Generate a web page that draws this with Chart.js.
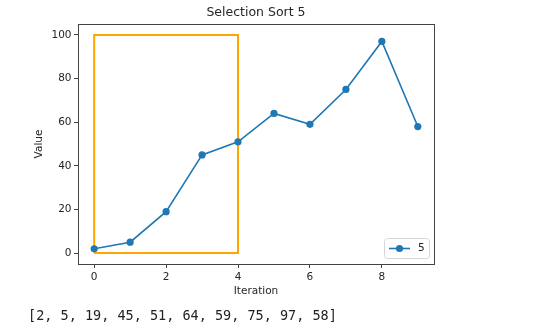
<!DOCTYPE html>
<html>
<head>
<meta charset="utf-8">
<script src="https://cdn.jsdelivr.net/npm/chart.js@4/dist/chart.umd.min.js"></script>
<style>
html, body { margin: 0; padding: 0; background: #fff; }
#wrap { position: relative; width: 539px; height: 329px; }
#listOut {
    position: absolute; left: 28px; top: 305px; margin: 0;
    font-family: "DejaVu Sans Mono", monospace; font-size: 13.5px;
    line-height: 20px; color: #222;
}
</style>
</head>
<body>
<div id="wrap">
    <canvas id="sortChart" width="539" height="329"></canvas>
    <pre id="listOut"></pre>
</div>
<script>
var iterations = [0, 1, 2, 3, 4, 5, 6, 7, 8, 9];
var values = [2, 5, 19, 45, 51, 64, 59, 75, 97, 58];
var boxX = [0, 4, 4, 0, 0];
var boxY = [0, 0, 100, 100, 0];
var xTicks = [0, 2, 4, 6, 8];
var yTicks = [0, 20, 40, 60, 80, 100];
var seriesLabel = '5';
var chartTitle = 'Selection Sort 5';

var blue = '#1f77b4';
var orange = '#ffa500';
var axisColor = '#444';
var textColor = '#262626';
var baseFont = "'DejaVu Sans', sans-serif";

document.getElementById('listOut').textContent = '[' + values.join(', ') + ']';

// title centred over the plot area
var titlePlugin = {
    id: 'plotTitle',
    afterDraw: function (chart) {
        var ctx = chart.ctx, a = chart.chartArea;
        ctx.save();
        ctx.fillStyle = textColor;
        ctx.font = '12.5px ' + baseFont;
        ctx.textAlign = 'center';
        ctx.textBaseline = 'middle';
        ctx.fillText(chartTitle, (a.left + a.right) / 2, 13);
        ctx.restore();
    }
};

// box around the axes
var framePlugin = {
    id: 'frame',
    afterDraw: function (chart) {
        var ctx = chart.ctx, a = chart.chartArea;
        ctx.save();
        ctx.strokeStyle = axisColor;
        ctx.lineWidth = 1;
        ctx.strokeRect(Math.round(a.left) + 0.5, Math.round(a.top) + 0.5,
            Math.round(a.right - a.left), Math.round(a.bottom - a.top));
        ctx.restore();
    }
};

// small legend in the lower right corner
var legendPlugin = {
    id: 'legendBox',
    afterDraw: function (chart) {
        var ctx = chart.ctx, a = chart.chartArea;
        var ds = chart.data.datasets[0];
        var w = 45, h = 20;
        var x = a.right - 5 - w, y = a.bottom - 6 - h;
        ctx.save();
        ctx.fillStyle = 'rgba(255,255,255,0.8)';
        ctx.strokeStyle = '#d6d6d6';
        ctx.lineWidth = 1;
        ctx.beginPath();
        ctx.roundRect(x + 0.5, y + 0.5, w, h, 3);
        ctx.fill();
        ctx.stroke();
        var cy = y + h / 2 + 0.5;
        ctx.strokeStyle = ds.borderColor;
        ctx.lineWidth = ds.borderWidth;
        ctx.beginPath();
        ctx.moveTo(x + 5, cy);
        ctx.lineTo(x + 26, cy);
        ctx.stroke();
        ctx.fillStyle = ds.pointBackgroundColor;
        ctx.beginPath();
        ctx.arc(x + 15.5, cy, ds.pointRadius, 0, Math.PI * 2);
        ctx.fill();
        ctx.fillStyle = textColor;
        ctx.font = '10.5px ' + baseFont;
        ctx.textAlign = 'left';
        ctx.textBaseline = 'middle';
        ctx.fillText(ds.label, x + 34, cy);
        ctx.restore();
    }
};

var ctx = document.getElementById('sortChart').getContext('2d');

var sortChart = new Chart(ctx, {
    type: 'line',
    data: {
        datasets: [{
            label: seriesLabel,
            data: iterations.map(function (it, i) { return { x: it, y: values[i] }; }),
            borderColor: blue,
            backgroundColor: blue,
            pointBackgroundColor: blue,
            pointBorderColor: blue,
            pointRadius: 3.6,
            pointBorderWidth: 0,
            borderWidth: 1.6,
            tension: 0,
            fill: false
        }, {
            label: 'window',
            type: 'scatter',
            showLine: true,
            data: boxX.map(function (bx, i) { return { x: bx, y: boxY[i] }; }),
            borderColor: orange,
            borderWidth: 2,
            pointRadius: 0,
            fill: false
        }]
    },
    options: {
        responsive: false,
        animation: false,
        events: [],
        layout: {
            padding: { left: 30, right: 105, top: 24, bottom: 29 }
        },
        plugins: {
            legend: { display: false },
            tooltip: { enabled: false },
            title: { display: false }
        },
        scales: {
            x: {
                type: 'linear',
                min: -0.45,
                max: 9.45,
                afterBuildTicks: function (scale) {
                    scale.ticks = xTicks.map(function (v) { return { value: v }; });
                },
                afterFit: function (scale) { scale.height = 36; },
                grid: {
                    drawOnChartArea: false,
                    drawTicks: true,
                    tickLength: 4,
                    color: axisColor
                },
                border: { display: false },
                ticks: {
                    padding: 3,
                    maxRotation: 0,
                    color: textColor,
                    font: { family: baseFont, size: 10.5 }
                },
                title: {
                    display: true,
                    text: 'Iteration',
                    color: textColor,
                    padding: { top: 0, bottom: 2 },
                    font: { family: baseFont, size: 10.5 }
                }
            },
            y: {
                type: 'linear',
                min: -5,
                max: 105,
                afterBuildTicks: function (scale) {
                    scale.ticks = yTicks.map(function (v) { return { value: v }; });
                },
                afterFit: function (scale) { scale.width = 48; },
                grid: {
                    drawOnChartArea: false,
                    drawTicks: true,
                    tickLength: 4,
                    color: axisColor
                },
                border: { display: false },
                ticks: {
                    padding: 2.5,
                    color: textColor,
                    font: { family: baseFont, size: 10.5 }
                },
                title: {
                    display: true,
                    text: 'Value',
                    color: textColor,
                    padding: { top: 3, bottom: 0 },
                    font: { family: baseFont, size: 10.5 }
                }
            }
        }
    },
    plugins: [titlePlugin, framePlugin, legendPlugin]
});
</script>
</body>
</html>
